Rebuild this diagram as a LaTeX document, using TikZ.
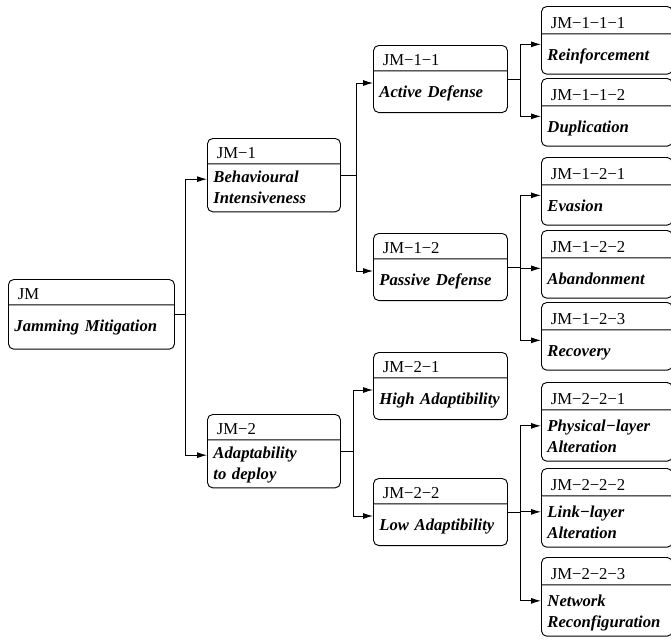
\documentclass[tikz,border=0pt]{standalone}
\usepackage{fontspec}
\setmainfont{Liberation Serif}
\usetikzlibrary{shapes.multipart,arrows.meta}

% struts for the two parts of a box
\newcommand{\jmid}[2][18.4pt]{\hspace*{2.5pt}\rule[-4.1pt]{0pt}{#1}#2}
\newcommand{\jmone}[2][11pt]{\rule[-#1]{0pt}{\dimexpr19.5pt+#1\relax}\textbf{\textit{#2}}}
\newcommand{\jmtwo}[3][13.5pt]{\rule{0pt}{#1}\textbf{\textit{#2}}\\\textbf{\textit{#3}}\rule[-6pt]{0pt}{6pt}}

\tikzset{
  jmbox/.style={draw, rounded corners=4pt, rectangle split, rectangle split parts=2,
    text width=#1, align=left, inner xsep=4.5pt, inner ysep=0pt, anchor=north west,
    font=\fontsize{12.5}{15.75}\selectfont},
}

\begin{document}
\begin{tikzpicture}[x=0.75pt,y=-0.75pt,line width=0.7pt,>={Latex[length=7.5pt,width=4.5pt]}]
\useasboundingbox (0,0) rectangle (671,639);

\node[jmbox=115.5pt] (jm) at (8,279) {\jmid{JM}\nodepart{two}\jmone[13pt]{Jamming Mitigation}};

\node[jmbox=90.75pt] (jm1) at (207,138) {\jmid{JM−1}\nodepart{two}\jmtwo{Behavioural}{Intensiveness}};
\node[jmbox=90.75pt] (jm2) at (207,414) {\jmid{JM−2}\nodepart{two}\jmtwo{Adaptability}{to deploy}};

\node[jmbox=91.5pt] (jm11) at (373,45) {\jmid{JM−1−1}\nodepart{two}\jmone{Active Defense}};
\node[jmbox=91.5pt] (jm12) at (373,233) {\jmid{JM−1−2}\nodepart{two}\jmone{Passive Defense}};
\node[jmbox=91.5pt] (jm21) at (373,352) {\jmid{JM−2−1}\nodepart{two}\jmone{High Adaptibility}};
\node[jmbox=91.5pt] (jm22) at (373,478) {\jmid{JM−2−2}\nodepart{two}\jmone{Low Adaptibility}};

\node[jmbox=89.25pt] (jm111) at (541,6) {\jmid[19.9pt]{JM−1−1−1}\nodepart{two}\jmone[10pt]{Reinforcement}};
\node[jmbox=89.25pt] (jm112) at (541,78) {\jmid[19.9pt]{JM−1−1−2}\nodepart{two}\jmone[10pt]{Duplication}};
\node[jmbox=89.25pt] (jm121) at (541,157) {\jmid[19.9pt]{JM−1−2−1}\nodepart{two}\jmone[10pt]{Evasion}};
\node[jmbox=89.25pt] (jm122) at (541,230) {\jmid[19.9pt]{JM−1−2−2}\nodepart{two}\jmone[10pt]{Abandonment}};
\node[jmbox=89.25pt] (jm123) at (541,302) {\jmid[19.9pt]{JM−1−2−3}\nodepart{two}\jmone[10pt]{Recovery}};
\node[jmbox=89.25pt] (jm221) at (541,382) {\jmid[19.9pt]{JM−2−2−1}\nodepart{two}\jmtwo[16pt]{Physical−layer}{Alteration}};
\node[jmbox=89.25pt] (jm222) at (541,468) {\jmid[19.9pt]{JM−2−2−2}\nodepart{two}\jmtwo[16pt]{Link−layer}{Alteration}};
\node[jmbox=89.25pt] (jm223) at (541,557) {\jmid[19.9pt]{JM−2−2−3}\nodepart{two}\jmtwo[16pt]{Network}{Reconfiguration}};

\draw[->] (jm.east) -- ++(11,0) |- ([yshift=-3pt]jm1.west);
\draw[->] (jm.east) -- ++(11,0) |- ([yshift=-3pt]jm2.west);

\draw[->] (jm1.east) -- ++(16,0) |- ([yshift=-3pt]jm11.west);
\draw[->] (jm1.east) -- ++(16,0) |- ([yshift=-3pt]jm12.west);
\draw[->] (jm2.east) -- ++(13,0) |- ([yshift=-3pt]jm21.west);
\draw[->] (jm2.east) -- ++(13,0) |- ([yshift=-3pt]jm22.west);

\draw[->] (jm11.east) -- ++(13,0) |- ([yshift=-3pt]jm111.west);
\draw[->] (jm11.east) -- ++(13,0) |- ([yshift=-3pt]jm112.west);
\draw[->] (jm12.east) -- ++(13,0) |- ([yshift=-3pt]jm121.west);
\draw[->] (jm12.east) -- ++(13,0) |- ([yshift=-3pt]jm122.west);
\draw[->] (jm12.east) -- ++(13,0) |- ([yshift=-3pt]jm123.west);
\draw[->] (jm22.east) -- ++(13,0) |- ([yshift=-3pt]jm221.west);
\draw[->] (jm22.east) -- ++(13,0) |- ([yshift=-3pt]jm222.west);
\draw[->] (jm22.east) -- ++(13,0) |- ([yshift=-3pt]jm223.west);
\end{tikzpicture}
\end{document}
